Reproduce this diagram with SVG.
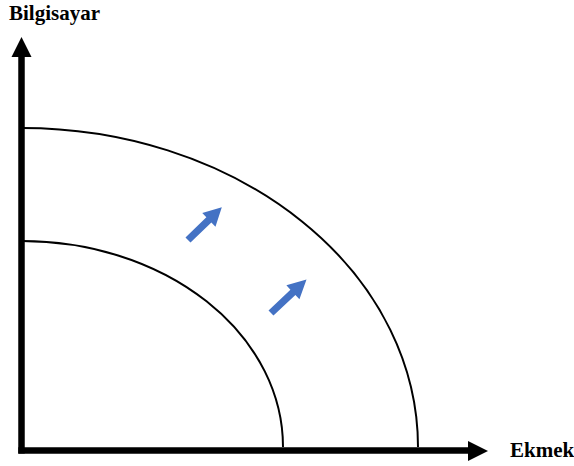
<svg xmlns="http://www.w3.org/2000/svg" xmlns:xlink="http://www.w3.org/1999/xlink" width="574" height="466" viewBox="0 0 574 466">
<style>
.lbl{font-family:"Liberation Serif","Times New Roman",serif;font-weight:bold;font-size:21px;fill:#000}
.axis{stroke:#000;stroke-width:6.5;fill:none}
.curve{stroke:#000;stroke-width:2;fill:none}
.blue{fill:#4472C4}
</style>
<defs>
<path id="barrow" d="M0,-3.6 L29,-3.6 L29,-9.5 L47,0 L29,9.5 L29,3.6 L0,3.6 Z"/>
</defs>
<rect width="574" height="466" fill="#fff"/>
<g id="curves">
<path id="outer" class="curve" d="M22,128 A396,319 0 0 1 418,447"/>
<path id="inner" class="curve" d="M22,241 A261,206 0 0 1 283,447"/>
</g>
<g id="connectors">
<line class="axis" x1="21.5" y1="56" x2="21.5" y2="453.5"/>
<polygon points="21.5,37 11.5,57 31.5,57" fill="#000"/>
<line class="axis" x1="18.3" y1="450.5" x2="470" y2="450.5"/>
<polygon points="488,451 468,441 468,461" fill="#000"/>
<use xlink:href="#barrow" class="blue" transform="translate(188,240) rotate(-44)"/>
<use xlink:href="#barrow" class="blue" transform="translate(271,313) rotate(-43.4) scale(1.04,1)"/>
</g>
<g id="labels">
<text class="lbl" x="9" y="19.5">Bilgisayar</text>
<text class="lbl" x="510" y="457">Ekmek</text>
</g>
</svg>
